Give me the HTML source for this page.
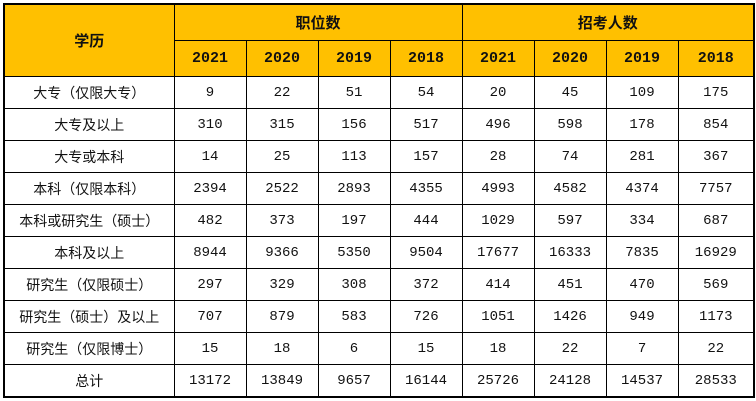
<!DOCTYPE html><html><head><meta charset="utf-8"><style>
body{margin:0;width:756px;height:401px;background:#fff;overflow:hidden}
table{position:absolute;left:3px;top:3px;border-collapse:collapse;table-layout:fixed;width:750px}
td{border:1px solid #000;text-align:center;padding:0;font-family:"Liberation Mono","DejaVu Sans Mono","Noto Sans CJK SC",monospace;font-size:14px;color:#111;height:31px}
tr.h td{background:#FFC000;font-weight:bold;height:35px;font-family:"Liberation Sans","Noto Sans CJK SC",sans-serif;font-size:15px}
tr.h td.y{font-family:"Liberation Mono",monospace;font-size:15px}
td.c{font-family:"Liberation Sans","Noto Sans CJK SC",sans-serif;font-size:14px}
table{border:2px solid #000}
</style></head><body>
<table>
<colgroup><col style="width:170px"><col style="width:72px"><col style="width:72px"><col style="width:72px"><col style="width:72px"><col style="width:72px"><col style="width:72px"><col style="width:72px"><col style="width:76px"></colgroup>
<tr class="h"><td rowspan="2">学历</td><td colspan="4">职位数</td><td colspan="4">招考人数</td></tr>
<tr class="h"><td class="y">2021</td><td class="y">2020</td><td class="y">2019</td><td class="y">2018</td><td class="y">2021</td><td class="y">2020</td><td class="y">2019</td><td class="y">2018</td></tr>
<tr><td class="c">大专（仅限大专）</td><td>9</td><td>22</td><td>51</td><td>54</td><td>20</td><td>45</td><td>109</td><td>175</td></tr>
<tr><td class="c">大专及以上</td><td>310</td><td>315</td><td>156</td><td>517</td><td>496</td><td>598</td><td>178</td><td>854</td></tr>
<tr><td class="c">大专或本科</td><td>14</td><td>25</td><td>113</td><td>157</td><td>28</td><td>74</td><td>281</td><td>367</td></tr>
<tr><td class="c">本科（仅限本科）</td><td>2394</td><td>2522</td><td>2893</td><td>4355</td><td>4993</td><td>4582</td><td>4374</td><td>7757</td></tr>
<tr><td class="c">本科或研究生（硕士）</td><td>482</td><td>373</td><td>197</td><td>444</td><td>1029</td><td>597</td><td>334</td><td>687</td></tr>
<tr><td class="c">本科及以上</td><td>8944</td><td>9366</td><td>5350</td><td>9504</td><td>17677</td><td>16333</td><td>7835</td><td>16929</td></tr>
<tr><td class="c">研究生（仅限硕士）</td><td>297</td><td>329</td><td>308</td><td>372</td><td>414</td><td>451</td><td>470</td><td>569</td></tr>
<tr><td class="c">研究生（硕士）及以上</td><td>707</td><td>879</td><td>583</td><td>726</td><td>1051</td><td>1426</td><td>949</td><td>1173</td></tr>
<tr><td class="c">研究生（仅限博士）</td><td>15</td><td>18</td><td>6</td><td>15</td><td>18</td><td>22</td><td>7</td><td>22</td></tr>
<tr><td class="c">总计</td><td>13172</td><td>13849</td><td>9657</td><td>16144</td><td>25726</td><td>24128</td><td>14537</td><td>28533</td></tr>
</table>
</body></html>
